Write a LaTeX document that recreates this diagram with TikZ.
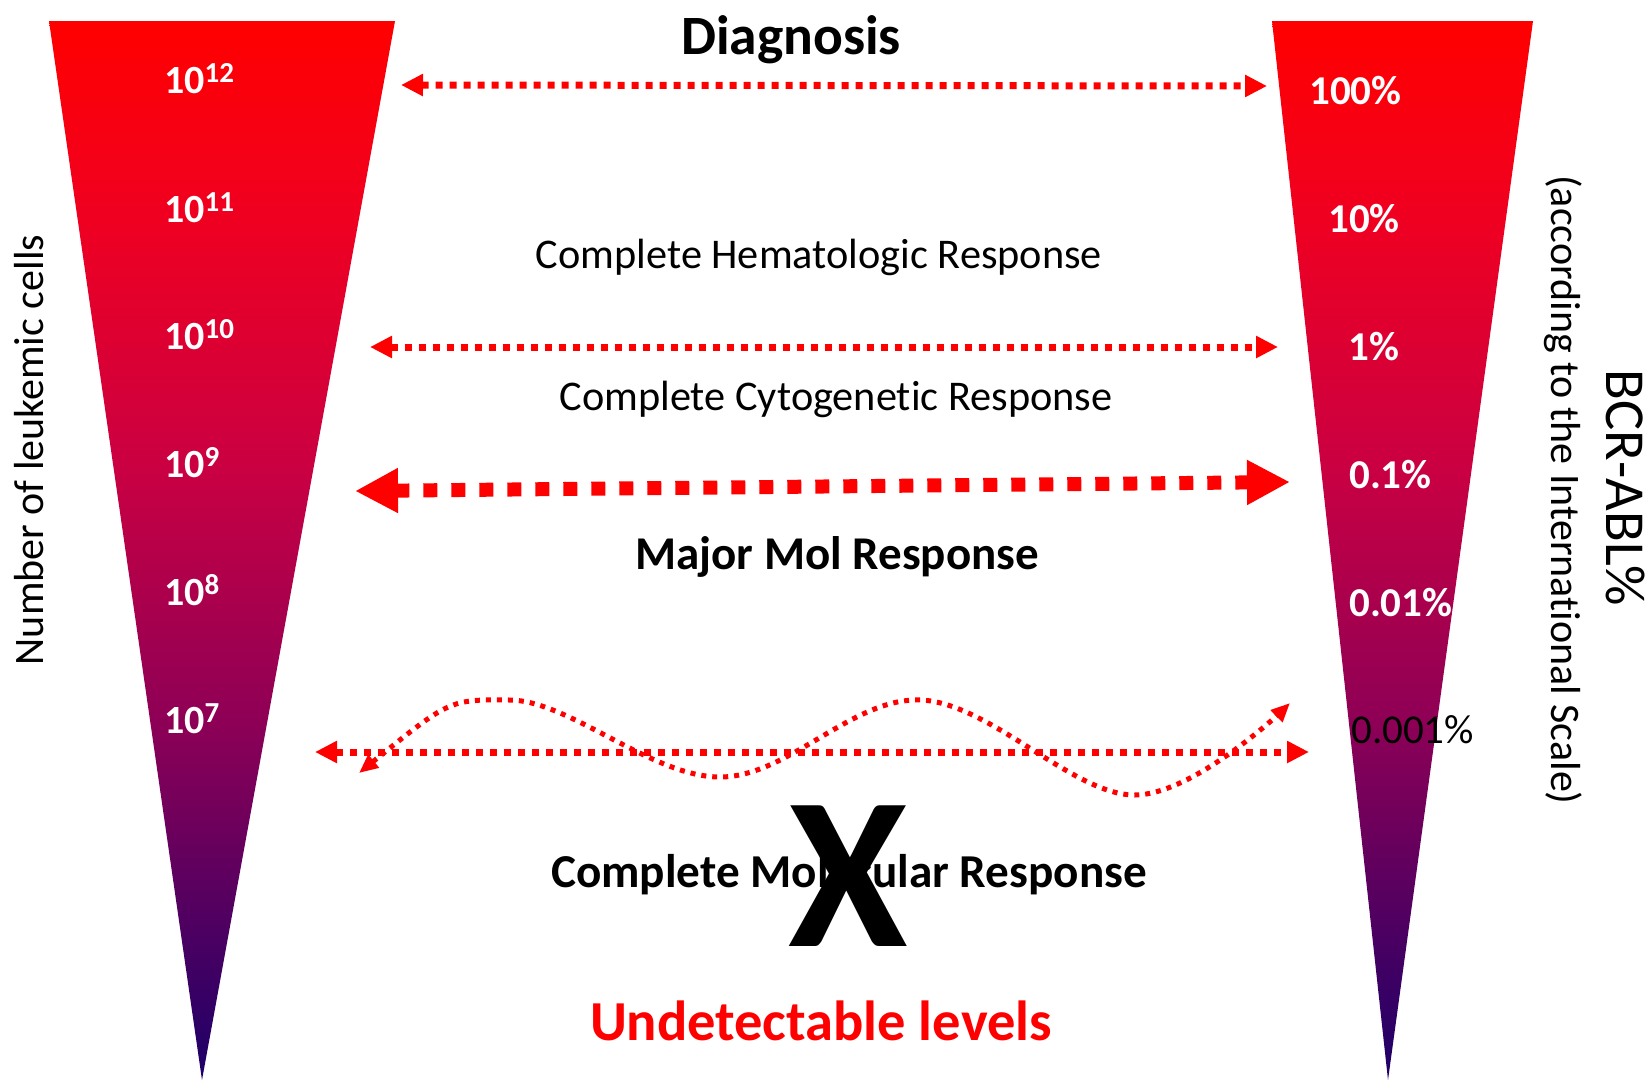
\documentclass[tikz,border=0pt]{standalone}
\usepackage{fontspec}
\setmainfont{Carlito}[Ligatures={TeX,NoCommon}]
\usetikzlibrary{arrows.meta}

\definecolor{cmltop}{RGB}{255,0,0}
\definecolor{cmlA}{RGB}{240,0,32}
\definecolor{cmlB}{RGB}{202,0,66}
\definecolor{cmlC}{RGB}{142,0,86}
\definecolor{cmlD}{RGB}{86,0,96}
\definecolor{cmlbot}{RGB}{28,0,104}

% red-to-indigo fill of the funnels (path box maps to 25bp..75bp)
\pgfdeclareverticalshading{funnelshade}{100bp}{%
  color(0bp)=(cmlbot); color(25bp)=(cmlbot); color(33.5bp)=(cmlD);
  color(42bp)=(cmlC); color(54bp)=(cmlB); color(66bp)=(cmlA);
  color(75bp)=(cmltop); color(100bp)=(cmltop)}

\newcommand\fsz[1]{\fontsize{#1}{#1}\selectfont}
\newcommand\tenpow[1]{10\raisebox{11pt}{\fsz{29}#1}}

\begin{document}
\begin{tikzpicture}[x=1pt,y=-1pt,
  funnel/.style={shading=funnelshade, draw=none},
  txt/.style={inner sep=0pt, anchor=base},
  lvl/.style={inner sep=0pt, anchor=base west, text=white, font=\fsz{40}\bfseries},
  pct/.style={inner sep=0pt, anchor=base west, text=white, font=\fsz{41}\bfseries},
  thinarrow/.style={draw=red, line width=7pt, dash pattern=on 7pt off 7pt,
    {Triangle[length=22pt,width=21pt]}-{Triangle[length=22pt,width=21pt]}},
  thickarrow/.style={draw=red, line width=14pt, dash pattern=on 14pt off 14pt,
    {Triangle[length=43pt,width=42pt]}-{Triangle[length=43pt,width=42pt]}},
  wavearrow/.style={draw=red, line width=5pt, dash pattern=on 5pt off 6pt,
    {Triangle[length=19pt,width=16pt]}-{Triangle[length=19pt,width=16pt]}}
]
\useasboundingbox (0,0) rectangle (1651,1080);

% the two funnels
\shade[funnel] (49,21) -- (395,21) -- (202,1080) -- cycle;
\shade[funnel] (1272,21) -- (1533,21) -- (1388,1080) -- cycle;

% number of leukemic cells
\node[lvl] (c12) at (164,93)  {\tenpow{12}};
\node[lvl] (c11) at (164,222) {\tenpow{11}};
\node[lvl] (c10) at (164,349) {\tenpow{10}};
\node[lvl] (c9)  at (164,477) {\tenpow{9}};
\node[lvl] (c8)  at (164,605) {\tenpow{8}};
\node[lvl] (c7)  at (164,733) {\tenpow{7}};

% BCR-ABL percentages
\node[pct] (p100) at (1309,104) {100\%};
\node[pct] (p10)  at (1328,232) {10\%};
\node[pct] (p1)   at (1348,360) {1\%};
\node[pct] (p01)  at (1349,488) {0.1\%};
\node[pct] (p001) at (1349,616) {0.01\%};
\node[inner sep=0pt, anchor=base west, text=black, font=\fsz{41}] (p0001) at (1351,743) {0.001\%};

% axis titles
\node[txt, rotate=90, font=\fsz{42}] (ylab) at (43,450) {Number of leukemic cells};
\node[txt, rotate=-90, font=\fsz{42}] (scale) at (1551,490) {(according to the International Scale)};
\node[txt, rotate=-90, font=\fsz{56.5}] (bcr) at (1606,488) {BCR-ABL\%};

% response levels
\node[txt, font=\fsz{55.5}\bfseries] (diag) at (791,54) {Diagnosis};
\node[txt, font=\fsz{42.3}] (chr) at (819,268) {Complete Hematologic Response};
\node[txt, font=\fsz{42.3}] (ccyr) at (836,410) {Complete Cytogenetic Response};
\node[txt, font=\fsz{47}\bfseries] (mmr) at (837,569) {Major Mol Response};
\node[txt, font=\fsz{47.2}\bfseries] (cmr) at (849,887) {Complete Molecular Response};
\node[txt, font=\fsz{217}\bfseries] (cross) at (848,946) {X};
\node[txt, font=\fsz{56.5}\bfseries, text=red] (undet) at (821,1040) {Undetectable levels};

% level markers
\coordinate (a1l) at (401,85);   \coordinate (a1r) at (1267,86);
\coordinate (a2l) at (370,347);  \coordinate (a2r) at (1278,347);
\coordinate (a3l) at (355,491);  \coordinate (a3r) at (1290,482);
\coordinate (a4l) at (315,752);  \coordinate (a4r) at (1309,752);

\draw[thinarrow] (a1l) -- (a1r);
\draw[thinarrow] (a2l) -- (a2r);
\draw[thickarrow] (a3l) -- (a3r);
\draw[thinarrow] (a4l) -- (a4r);

% fluctuating level around the detection limit
\draw[wavearrow] plot[smooth, tension=0.6] coordinates
  {(359,773) (510,700) (720,777) (921,700) (1134,795) (1290,703)};
\end{tikzpicture}
\end{document}
